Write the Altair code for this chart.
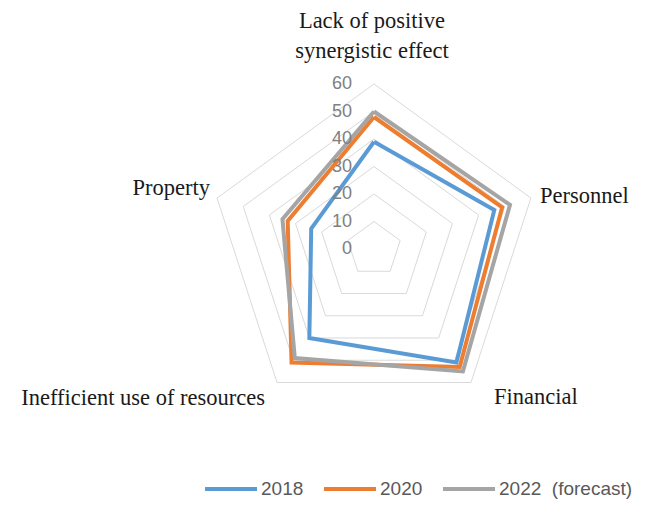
import altair as alt
import pandas as pd

categories = ["Lack of positive synergistic effect", "Personnel", "Financial",
              "Inefficient use of resources", "Property"]
years = ["2018", "2020", "2022\u00a0 (forecast)"]
v2018 = [39, 46, 51, 40, 24]
v2020 = [48, 49, 53, 51, 33]
v2022 = [50, 52, 55, 49, 35]
ticks = [0, 10, 20, 30, 40, 50, 60]
colors = ["#5B9BD5", "#ED7D31", "#A5A5A5"]

n = len(categories)
rows = []
for yr, vals in zip(years, [v2018, v2020, v2022]):
    for k in range(n + 1):
        i = k % n
        rows.append({"year": yr, "cat": categories[i], "idx": i, "order": k, "value": vals[i]})
series = pd.DataFrame(rows)

grows = []
for lv in ticks[1:]:
    for k in range(n + 1):
        grows.append({"level": lv, "idx": k % n, "order": k, "value": lv})
grid = pd.DataFrame(grows)

tick_df = pd.DataFrame({"value": ticks, "label": [str(t) for t in ticks]})

xs = alt.Scale(domain=[-133.09, 97.82], nice=False, zero=False)
ys = alt.Scale(domain=[-98.18, 87.64], nice=False, zero=False)

def polar(ch):
    return ch.transform_calculate(
        theta="PI/2 - 2*PI*datum.idx/5",
    ).transform_calculate(
        px="datum.value*cos(datum.theta)",
        py="datum.value*sin(datum.theta)",
    )

grid_layer = polar(alt.Chart(grid)).mark_line(color="#D9D9D9", strokeWidth=1).encode(
    x=alt.X("px:Q", scale=xs, axis=None),
    y=alt.Y("py:Q", scale=ys, axis=None),
    detail="level:N",
    order="order:Q",
)

line_layer = polar(alt.Chart(series)).mark_line(strokeWidth=4, strokeJoin="miter").encode(
    x=alt.X("px:Q", scale=xs, axis=None),
    y=alt.Y("py:Q", scale=ys, axis=None),
    color=alt.Color("year:N", scale=alt.Scale(domain=years, range=colors),
                    legend=alt.Legend(title=None, orient="none", direction="horizontal",
                                      legendX=195, legendY=453, symbolType="stroke",
                                      symbolSize=2704, symbolStrokeWidth=4,
                                      labelFont="Liberation Sans", labelFontSize=19,
                                      labelColor="#595959", labelOffset=2,
                                      labelLimit=300,
                                      columnPadding=12, padding=0)),
    order="order:Q",
)

tick_layer = alt.Chart(tick_df).mark_text(
    align="right", baseline="middle", dx=-22, font="Liberation Sans", fontSize=18, color="#808080"
).encode(
    x=alt.X("zero:Q", scale=xs, axis=None),
    y=alt.Y("value:Q", scale=ys, axis=None),
    text="label:N",
).transform_calculate(zero="0")

def cat_label(i, text, align, dx, dy):
    df = pd.DataFrame({"idx": [i], "value": [ticks[-1]], "t": [text]})
    return polar(alt.Chart(df)).mark_text(
        align=align, baseline="middle", dx=dx, dy=dy, font="Liberation Serif",
        fontSize=22.5, color="#1a1a1a", lineBreak="\n", lineHeight=30
    ).encode(
        x=alt.X("px:Q", scale=xs, axis=None),
        y=alt.Y("py:Q", scale=ys, axis=None),
        text="t:N",
    )

labels = [
    cat_label(0, "Lack of positive\nsynergistic effect", "center", -2, -63),
    cat_label(1, categories[1], "left", 9, -2),
    cat_label(2, categories[2], "left", 23, 15),
    cat_label(3, categories[3], "right", -12, 16),
    cat_label(4, categories[4], "right", -7, -10),
]

chart = alt.layer(grid_layer, line_layer, tick_layer, *labels).properties(
    width=635, height=511, autosize=alt.AutoSizeParams(type="none"), padding=0
).configure_view(stroke=None)

chart.save("out.html", embed_options={"renderer": "svg", "actions": False})
